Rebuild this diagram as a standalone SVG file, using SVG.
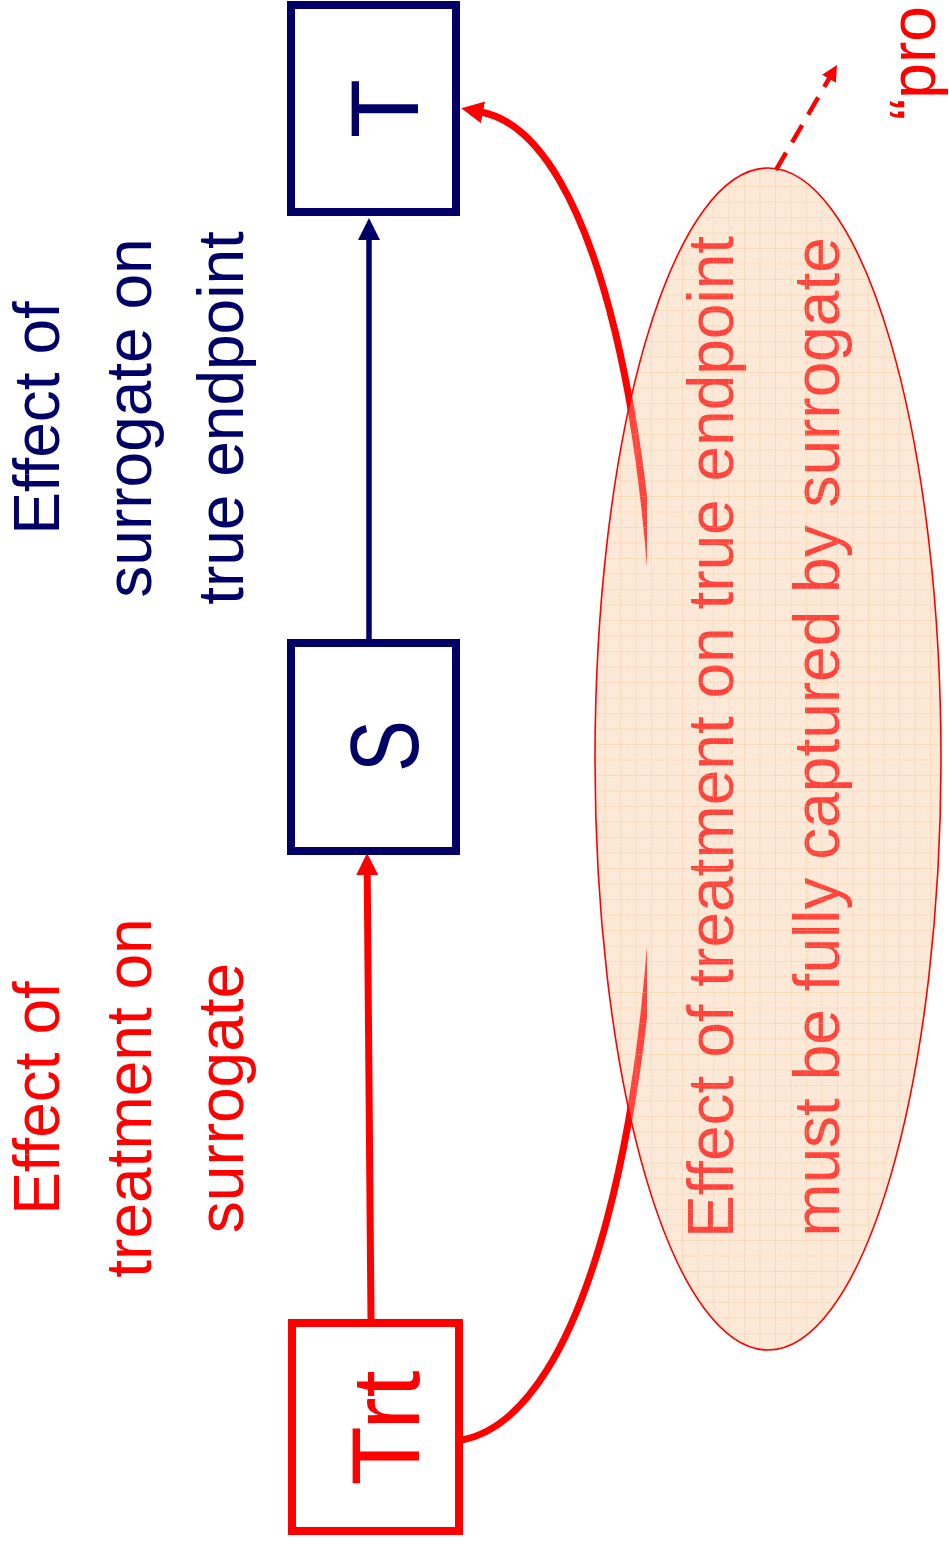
<svg xmlns="http://www.w3.org/2000/svg" width="949" height="1548" viewBox="0 0 949 1548">
  <style>
    text { font-family: "Liberation Sans", Arial, sans-serif; }
    .navy { fill: #000066; }
    .red { fill: #ff0000; }
    .lbl { font-size: 64px; text-anchor: middle; }
    .big { font-size: 97px; text-anchor: middle; }
    .box-navy { fill: #ffffff; stroke: #000066; stroke-width: 8; }
    .box-red { fill: #ffffff; stroke: #ff0000; stroke-width: 8; }
    .link-navy { fill: none; stroke: #000066; stroke-width: 5.5; }
    .link-red { fill: none; stroke: #ff0000; stroke-width: 7; }
    .link-dash { fill: none; stroke: #ff0000; stroke-width: 4.5; stroke-dasharray: 20 12; }
  </style>
  <defs>
    <marker id="head-navy" markerUnits="userSpaceOnUse" viewBox="0 0 22 22" refX="2" refY="11" markerWidth="22" markerHeight="22" orient="auto">
      <path d="M0,0 L22,11 L0,22 z" fill="#000066"/>
    </marker>
    <marker id="head-red" markerUnits="userSpaceOnUse" viewBox="0 0 22 22" refX="2" refY="11" markerWidth="22" markerHeight="22" orient="auto">
      <path d="M0,0 L22,11 L0,22 z" fill="#ff0000"/>
    </marker>
    <marker id="head-red-small" markerUnits="userSpaceOnUse" viewBox="0 0 16 16" refX="2" refY="8" markerWidth="16" markerHeight="16" orient="auto">
      <path d="M0,0 L16,8 L0,16 z" fill="#ff0000"/>
    </marker>
    <pattern id="grid-fine" patternUnits="userSpaceOnUse" width="3.1" height="3.1">
      <path d="M3.1 0 H0 V3.1" fill="none" stroke="#f8c090" stroke-width="0.5" stroke-opacity="0.25"/>
    </pattern>
    <pattern id="grid" patternUnits="userSpaceOnUse" width="15.5" height="15.5">
      <rect width="15.5" height="15.5" fill="url(#grid-fine)"/>
      <path d="M15.5 0 H0 V15.5" fill="none" stroke="#f7b473" stroke-width="1" stroke-opacity="0.5"/>
    </pattern>
    <clipPath id="curve-clip">
      <rect x="0" y="0" width="647" height="1548"/>
    </clipPath>
  </defs>

  <!-- side captions -->
  <g id="label-surrogate-true" class="navy">
    <text class="lbl" transform="translate(59,418) rotate(-90)">Effect of</text>
    <text class="lbl" transform="translate(151,418) rotate(-90)">surrogate on</text>
    <text class="lbl" transform="translate(243,418) rotate(-90)">true endpoint</text>
  </g>
  <g id="label-treatment-surrogate" class="red">
    <text class="lbl" transform="translate(59,1098) rotate(-90)">Effect of</text>
    <text class="lbl" transform="translate(151,1098) rotate(-90)">treatment on</text>
    <text class="lbl" transform="translate(243,1098) rotate(-90)">surrogate</text>
  </g>

  <!-- ellipse note: base fill and its text -->
  <g id="note-capture">
    <ellipse cx="768" cy="759" rx="173" ry="591" fill="#fdebdc"/>
    <text class="lbl red" transform="translate(733,737) rotate(-90)">Effect of treatment on true endpoint</text>
    <text class="lbl red" transform="translate(839,737) rotate(-90)">must be fully captured by surrogate</text>
  </g>

  <!-- connectors -->
  <g id="connectors">
    <path id="s-to-t" class="link-navy" d="M369,643 L369,238" marker-end="url(#head-navy)"/>
    <path id="trt-to-s" class="link-red" d="M371,1320 L367.2,873" marker-end="url(#head-red)"/>
    <path id="trt-to-t" class="link-red" d="M462,1440 C720,1390 720,158 481,112" clip-path="url(#curve-clip)" marker-end="url(#head-red)"/>
  </g>

  <!-- translucent veil, grid texture and outline of the ellipse -->
  <g id="note-capture-veil">
    <ellipse cx="768" cy="759" rx="173" ry="591" fill="#fde8d6" fill-opacity="0.27"/>
    <ellipse cx="768" cy="759" rx="173" ry="591" fill="url(#grid)"/>
    <ellipse cx="768" cy="759" rx="173" ry="591" fill="none" stroke="#ff0000" stroke-width="1.6"/>
  </g>

  <g id="pointer">
    <path id="ellipse-to-note" class="link-dash" d="M776,170 L830,77" marker-end="url(#head-red-small)"/>
    <text class="red" font-size="64" transform="translate(935,120) rotate(-90)">“pro</text>
  </g>

  <!-- nodes -->
  <g id="node-t">
    <rect class="box-navy" x="291" y="5" width="165" height="207"/>
    <text class="big navy" transform="translate(418,108.5) rotate(-90)">T</text>
  </g>
  <g id="node-s">
    <rect class="box-navy" x="291" y="643" width="165" height="208"/>
    <text class="big navy" transform="translate(418,746) rotate(-90) scale(0.8,1)">S</text>
  </g>
  <g id="node-trt">
    <rect class="box-red" x="292" y="1323" width="167" height="208"/>
    <text class="big red" transform="translate(419,1428) rotate(-90)">Trt</text>
  </g>
</svg>
